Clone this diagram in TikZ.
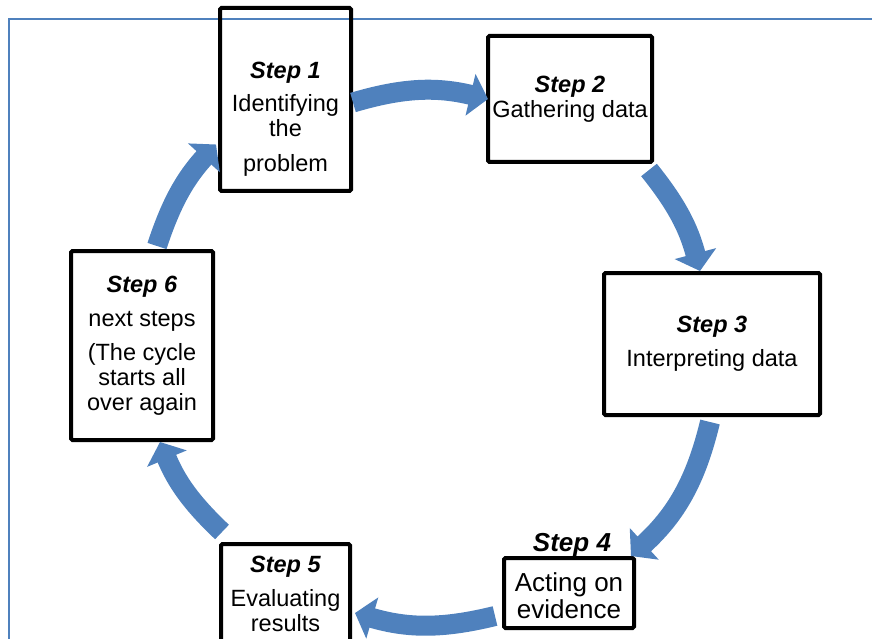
\documentclass[tikz,border=0pt]{standalone}
\usepackage{fontspec}
\setmainfont{Liberation Sans}
\usepackage{tikz}
\usetikzlibrary{arrows.meta}

\definecolor{cycblue}{HTML}{4F81BD}
\newcommand{\steplabel}[1]{\textbf{\textit{#1}}}

\begin{document}
\begin{tikzpicture}[x=1pt,y=-1pt,
        box/.style={draw,line width=4pt,rounded corners=1.5pt,inner sep=0pt,
          align=center,font=\fontsize{23.5}{25}\selectfont},
        cyc/.style={draw=cycblue,line width=20pt,
          -{Triangle[width=42pt,length=18pt]}}]

  \useasboundingbox (0,0) rectangle (872,639);
  \draw[cycblue,line width=1.5pt] (9,639) -- (9,19) -- (872,19);

  \node[box,minimum width=131pt,minimum height=183pt] (s_1) at (285.5,99.5)
    {\rule{0pt}{55pt}\steplabel{Step 1}\\[8pt] Identifying\\ the\\[10pt] problem};
  \node[box,minimum width=164pt,minimum height=126pt] (s_2) at (570,99)
    {\steplabel{Step 2}\\ Gathering data};
  \node[box,minimum width=216pt,minimum height=142pt] (s_3) at (712,344)
    {\steplabel{Step 3}\\[9pt] Interpreting data};
  \node[box,minimum width=130pt,minimum height=70pt,font=\fontsize{26}{27}\selectfont] (s_4) at (569,593)
    [label={[font=\fontsize{26}{27}\selectfont,label distance=-4pt,xshift=3pt]above:\steplabel{Step 4}}]
    {\rule{0pt}{24pt}Acting on\\ evidence};
  \node[box,minimum width=129pt,minimum height=100pt] (s_5) at (285.5,594)
    {\steplabel{Step 5}\\[9pt] Evaluating\\ results};
  \node[box,minimum width=142pt,minimum height=189pt] (s_6) at (142,345.5)
    {\steplabel{Step 6}\\[9pt] next steps\\[9pt] (The cycle\\ starts all\\ over again};

  \path ([yshift=-3pt]s_1.east) edge[cyc,bend left=15] ([xshift=2pt]s_2.west)
        ([shift={(-5pt,-6pt)}]s_2.south east) edge[cyc,bend left=12] ([xshift=-12pt]s_3.north)
        ([shift={(-2pt,-5pt)}]s_3.south) edge[cyc,bend left=17] ([xshift=-5pt]s_4.north east)
        ([shift={(-7pt,14pt)}]s_4.south west) edge[cyc,bend left=15] ([shift={(3pt,-19pt)}]s_5.east)
        ([shift={(3pt,10pt)}]s_5.north west) edge[cyc,bend left=12] ([xshift=18pt]s_6.south)
        ([shift={(15pt,3pt)}]s_6.north) edge[cyc,bend left=12] ([shift={(-2pt,-45pt)}]s_1.west);

\end{tikzpicture}
\end{document}
